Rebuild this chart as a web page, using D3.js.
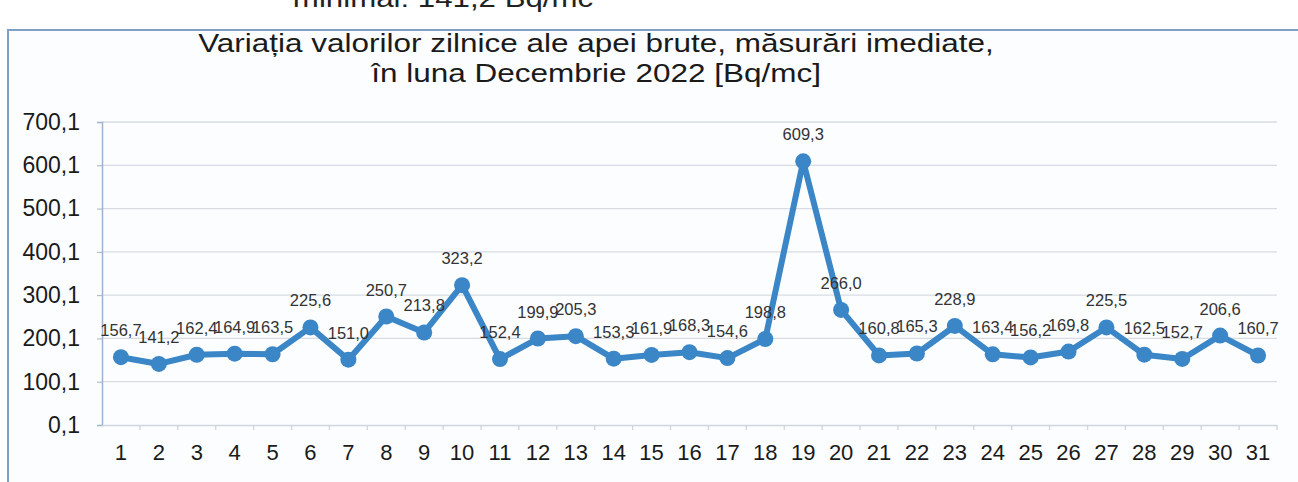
<!DOCTYPE html>
<html lang="ro">
<head>
  <meta charset="UTF-8" />
  <title>Variatia valorilor zilnice - Decembrie 2022</title>
  <script src="https://cdnjs.cloudflare.com/ajax/libs/d3/7.8.2/d3.min.js"></script>
  <style>
    body {
      margin: 0;
      padding: 0;
      background: #fff;
      font-family: "Liberation Sans", Arial, sans-serif;
    }
    svg { display: block; }
    .grid line { stroke: #d8dce2; stroke-width: 1.3px; }
    .label { font-size: 16.5px; fill: #333; text-anchor: middle; }
    .tick text { fill: #1a1a1a; }
  </style>
</head>
<body>
<svg id="chart"></svg>
<script>
// ---- data ----
const days = d3.range(1, 32).map(String);
const values = [156.7, 141.2, 162.4, 164.9, 163.5, 225.6, 151.0, 250.7, 213.8, 323.2,
                152.4, 199.9, 205.3, 153.3, 161.9, 168.3, 154.6, 198.8, 609.3, 266.0,
                160.8, 165.3, 228.9, 163.4, 156.2, 169.8, 225.5, 162.5, 152.7, 206.6, 160.7];
const yTicks = [0.1, 100.1, 200.1, 300.1, 400.1, 500.1, 600.1, 700.1];
const titleLines = ["Variația valorilor zilnice ale apei brute, măsurări imediate,",
                    "în luna Decembrie 2022 [Bq/mc]"];
const aboveText = "minimal: 141,2 Bq/mc";

const W = 1298, H = 482;
const margin = { left: 102, right: 20, top: 122, bottom: 57 };

const svg = d3.select("#chart").attr("width", W).attr("height", H);

// frame of the scanned chart box
svg.append("rect").attr("x", 8).attr("y", 30).attr("width", W).attr("height", H)
  .attr("fill", "#fbfdff").attr("stroke", "#7f9fc7").attr("stroke-width", 2);

// cut-off text above the box (only its lower part shows, as in the scan);
// the scan is stretched sideways, so the big texts get a horizontal scale
svg.append("text")
  .attr("transform", "translate(443,7) scale(1.25,1)")
  .attr("text-anchor", "middle").attr("font-size", 25).attr("fill", "#222")
  .text(aboveText);

// title
svg.append("g").selectAll("text").data(titleLines).join("text")
  .attr("transform", (d, i) => `translate(596,${52 + i * 30}) scale(1.26,1)`)
  .attr("text-anchor", "middle").attr("font-size", 25).attr("fill", "#1a1a1a")
  .text(d => d);

const x = d3.scaleBand().domain(days).range([margin.left, 1277]);
const y = d3.scaleLinear().domain([0.1, 700.1]).range([H - margin.bottom, margin.top]);

// gridlines
svg.append("g").attr("class", "grid")
  .selectAll("line").data(yTicks.slice(1)).join("line")
  .attr("x1", margin.left).attr("x2", 1277)
  .attr("y1", d => y(d)).attr("y2", d => y(d));

// y axis
const yAxis = svg.append("g").attr("transform", `translate(${margin.left},0)`)
  .call(d3.axisLeft(y).tickValues(yTicks).tickSize(5).tickPadding(17)
    .tickFormat(d => d3.format(".1f")(d).replace(".", ",")));
yAxis.select(".domain").attr("stroke", "#9fb3cc").attr("stroke-width", 1.5);
yAxis.selectAll(".tick line").attr("stroke", "#9fb3cc");
yAxis.selectAll(".tick text").attr("font-size", 23).attr("font-family", "Liberation Sans, Arial, sans-serif");

// x axis
const xAxis = svg.append("g").attr("transform", `translate(0,${y(0.1)})`)
  .call(d3.axisBottom(x).tickSize(0).tickPadding(19));
xAxis.select(".domain").attr("stroke", "#d0d6de").attr("stroke-width", 1.3);
xAxis.selectAll(".tick text").attr("font-size", 22).attr("font-family", "Liberation Sans, Arial, sans-serif");
// tick marks between categories
svg.append("g").selectAll("line").data(days).join("line")
  .attr("x1", d => x(d) + x.bandwidth()).attr("x2", d => x(d) + x.bandwidth())
  .attr("y1", y(0.1)).attr("y2", y(0.1) + 5)
  .attr("stroke", "#d0d6de").attr("stroke-width", 1.3);

const cx = (d, i) => x(days[i]) + x.bandwidth() / 2;

// line
svg.append("path").datum(values)
  .attr("fill", "none").attr("stroke", "#3a86c6").attr("stroke-width", 6)
  .attr("stroke-linejoin", "round")
  .attr("d", d3.line().x(cx).y(d => y(d)));

// markers
svg.append("g").selectAll("circle").data(values).join("circle")
  .attr("cx", cx).attr("cy", d => y(d)).attr("r", 8)
  .attr("fill", "#3a86c6");

// value labels
svg.append("g").selectAll("text").data(values).join("text")
  .attr("class", "label")
  .attr("x", cx).attr("y", d => y(d) - 21)
  .text(d => d3.format(".1f")(d).replace(".", ","));
</script>
</body>
</html>
